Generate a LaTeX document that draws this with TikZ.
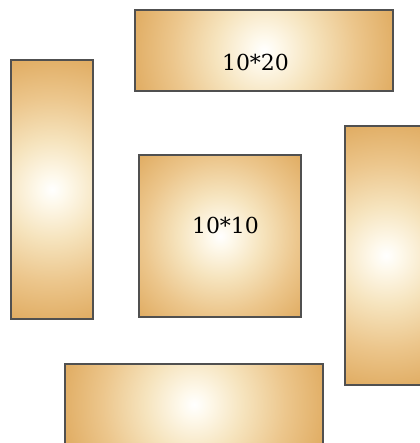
\documentclass[tikz,border=0pt]{standalone}
\usepackage{fontspec}
\setmainfont{DejaVu Serif}
\definecolor{glowA}{RGB}{254,249,236}
\definecolor{glowB}{RGB}{246,228,190}
\definecolor{glowC}{RGB}{236,198,140}
\definecolor{glowD}{RGB}{224,172,98}
\definecolor{edgegray}{RGB}{80,80,80}
\pgfdeclareradialshading{woodglow}{\pgfpoint{0bp}{0bp}}{color(0bp)=(white); color(2.5bp)=(glowA); color(9bp)=(glowB); color(17bp)=(glowC); color(25bp)=(glowD); color(50bp)=(glowD)}
\tikzset{
  plank/.style={draw=edgegray, line width=1.2pt, inner sep=0pt, outer sep=0pt,
    path picture={\shade[shading=woodglow] (path picture bounding box.center) circle[radius=#1];}},
  dimtext/.style={inner sep=0pt, font=\fontsize{22}{25}\selectfont, text=black}
}
\begin{document}
\begin{tikzpicture}[x=1pt,y=-1pt]
\useasboundingbox (0,0) rectangle (419,443);
\node[plank=135.2pt, minimum width=258pt, minimum height=81pt] (top) at (264,50.5) {};
\node[plank=135.8pt, minimum width=82pt, minimum height=259pt] (left) at (52,189.5) {};
\node[plank=114.6pt, minimum width=162pt, minimum height=162pt] (center) at (220,236) {};
\node[plank=135.8pt, minimum width=82pt, minimum height=259pt] (right) at (386,255.5) {};
\node[plank=135.2pt, minimum width=258pt, minimum height=81pt] (bottom) at (194,404.5) {};
\node[dimtext, xshift=-8.5pt, yshift=-11.5pt] (toptext) at (top.center) {10*20};
\node[dimtext, xshift=5.5pt, yshift=11pt] (centertext) at (center.center) {10*10};
\end{tikzpicture}
\end{document}
